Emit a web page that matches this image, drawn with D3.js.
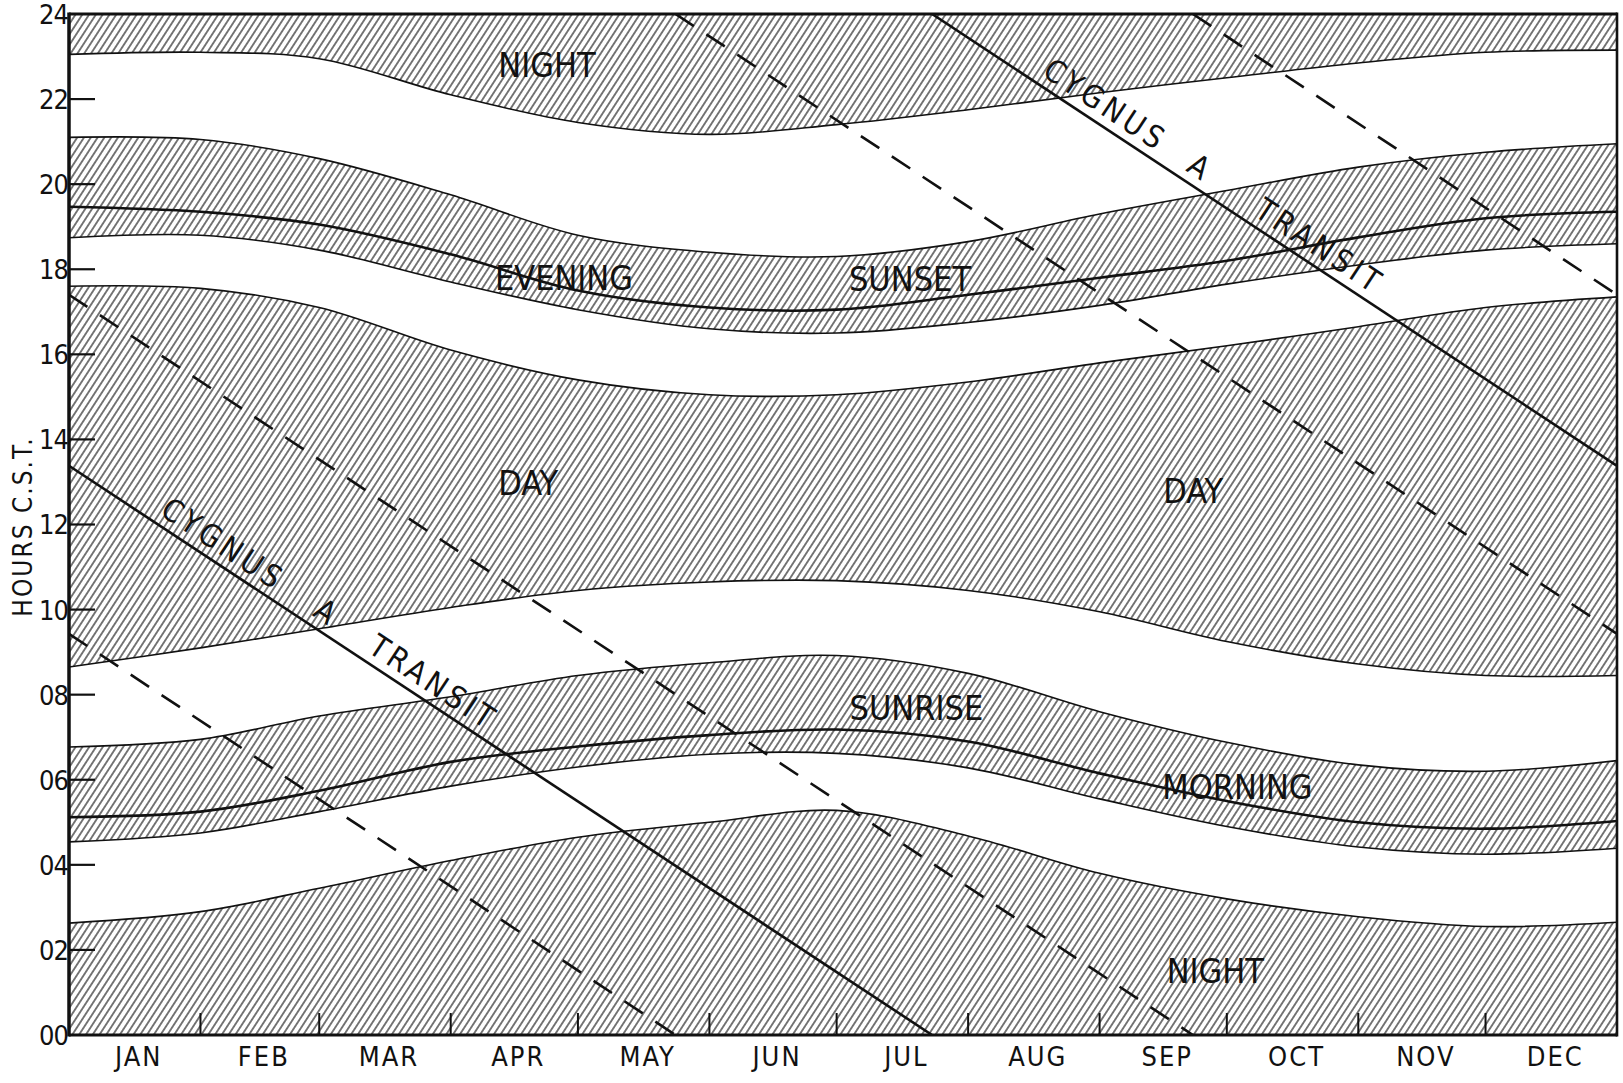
<!DOCTYPE html>
<html>
<head>
<meta charset="utf-8">
<script src="https://cdn.jsdelivr.net/npm/d3@7"></script>
<style>
  html, body { margin: 0; padding: 0; background: #fff; }
  svg { display: block; }
  text { font-family: "DejaVu Sans Condensed", "DejaVu Sans", sans-serif; fill: #111; }
</style>
</head>
<body>
<div id="chart"></div>
<script>
// day of year at the start of each month, plus the year end
const monthStarts = [0, 31, 59, 90, 120, 151, 181, 212, 243, 273, 304, 334, 365];
const monthNames = ["JAN", "FEB", "MAR", "APR", "MAY", "JUN", "JUL", "AUG", "SEP", "OCT", "NOV", "DEC"];
const hourTicks = [0, 2, 4, 6, 8, 10, 12, 14, 16, 18, 20, 22, 24];
const hourLabels = ["00", "02", "04", "06", "08", "10", "12", "14", "16", "18", "20", "22", "24"];

// band edges in hours C.S.T., read at each month start
const nightTopEdge   = [23.05, 23.1, 22.95, 22.1, 21.45, 21.17, 21.4, 21.75, 22.15, 22.5, 22.85, 23.1, 23.15];
const eveningTop     = [21.1, 21.05, 20.6, 19.75, 18.8, 18.4, 18.3, 18.65, 19.3, 19.85, 20.4, 20.75, 20.95];
const sunsetLine     = [19.47, 19.35, 19.05, 18.35, 17.5, 17.1, 17.05, 17.4, 17.8, 18.2, 18.75, 19.2, 19.35];
const eveningBottom  = [18.74, 18.8, 18.45, 17.7, 17.05, 16.6, 16.5, 16.75, 17.15, 17.65, 18.1, 18.45, 18.6];
const dayTop         = [17.6, 17.55, 17.1, 16.1, 15.4, 15.05, 15.05, 15.35, 15.8, 16.2, 16.65, 17.1, 17.35];
const dayBottom      = [8.65, 9.1, 9.55, 10.05, 10.45, 10.65, 10.68, 10.45, 9.95, 9.25, 8.72, 8.45, 8.45];
const morningTop     = [6.77, 6.95, 7.5, 7.95, 8.45, 8.75, 8.92, 8.5, 7.6, 6.88, 6.35, 6.2, 6.45];
const sunriseLine    = [5.12, 5.25, 5.74, 6.42, 6.78, 7.05, 7.18, 6.9, 6.15, 5.5, 5.0, 4.85, 5.03];
const morningBottom  = [4.54, 4.75, 5.25, 5.85, 6.3, 6.6, 6.62, 6.28, 5.55, 4.9, 4.42, 4.25, 4.39];
const nightLowEdge   = [2.63, 2.9, 3.45, 4.1, 4.65, 5.0, 5.28, 4.68, 3.8, 3.2, 2.78, 2.55, 2.65];
const chartTop       = [24, 24, 24, 24, 24, 24, 24, 24, 24, 24, 24, 24, 24];
const chartBottom    = [0, 0, 0, 0, 0, 0, 0, 0, 0, 0, 0, 0, 0];

// Cygnus A transit and the lines 4 h either side: [day, hour] end points of each run
const cygnusTransit = [[[0, 13.38], [203.5, 0]], [[203.5, 24], [365, 13.38]]];
const fourHoursLater = [[[0, 17.4], [265, 0]], [[265, 24], [365, 17.4]]];
const fourHoursEarlier = [[[0, 9.43], [143, 0]], [[143, 24], [365, 9.43]]];

const bandNames = [
  { text: "NIGHT", day: 112.7, hour: 22.8 },
  { text: "EVENING", day: 116.7, hour: 17.8 },
  { text: "SUNSET", day: 198.3, hour: 17.77 },
  { text: "DAY", day: 108.3, hour: 12.98 },
  { text: "DAY", day: 265.1, hour: 12.79 },
  { text: "SUNRISE", day: 199.8, hour: 7.69 },
  { text: "MORNING", day: 275.5, hour: 5.83 },
  { text: "NIGHT", day: 270.3, hour: 1.52 }
];
// words written along the transit line: run index and starting day
const transitWords = [
  { text: "CYGNUS", run: 0, day: 20 },
  { text: "A", run: 0, day: 56 },
  { text: "TRANSIT", run: 0, day: 69 },
  { text: "CYGNUS", run: 1, day: 228 },
  { text: "A", run: 1, day: 262 },
  { text: "TRANSIT", run: 1, day: 278 }
];

const width = 1623;
const height = 1083;
const x = d3.scaleLinear().domain([0, 365]).range([69, 1617]);
const y = d3.scaleLinear().domain([0, 24]).range([1035, 14]);

const svg = d3.select("#chart").append("svg")
  .attr("width", width)
  .attr("height", height);

const defs = svg.append("defs");
const hatch = defs.append("pattern")
  .attr("id", "hatch")
  .attr("patternUnits", "userSpaceOnUse")
  .attr("width", 5.7)
  .attr("height", 10)
  .attr("patternTransform", "rotate(33)");
hatch.append("line")
  .attr("x1", 2.85).attr("y1", -1)
  .attr("x2", 2.85).attr("y2", 11)
  .style("stroke", "#151515")
  .style("stroke-width", 1.15);

defs.append("clipPath").attr("id", "plot")
  .append("rect")
  .attr("x", x(0)).attr("y", y(24))
  .attr("width", x(365) - x(0)).attr("height", y(0) - y(24));

const curve = d3.curveCatmullRom.alpha(0.5);
const plot = svg.append("g").attr("clip-path", "url(#plot)");

// hatched bands
const bands = [
  [nightTopEdge, chartTop],
  [eveningBottom, eveningTop],
  [dayBottom, dayTop],
  [morningBottom, morningTop],
  [chartBottom, nightLowEdge]
];
const area = d3.area()
  .x(d => x(d.day))
  .y0(d => y(d.lo))
  .y1(d => y(d.hi))
  .curve(curve);

plot.selectAll(".band")
  .data(bands)
  .enter()
  .append("path")
  .attr("class", "band")
  .attr("d", ([lo, hi]) => area(monthStarts.map((day, i) => ({ day, lo: lo[i], hi: hi[i] }))))
  .style("fill", "url(#hatch)");

// band edges and the sunrise / sunset lines
const line = d3.line()
  .x((d, i) => x(monthStarts[i]))
  .y(d => y(d))
  .curve(curve);

const edges = [nightTopEdge, eveningTop, eveningBottom, dayTop, dayBottom, morningTop, morningBottom, nightLowEdge];
plot.selectAll(".edge")
  .data(edges)
  .enter()
  .append("path")
  .attr("class", "edge")
  .attr("d", line)
  .style("fill", "none")
  .style("stroke", "#111")
  .style("stroke-width", 1.6);

plot.selectAll(".sun")
  .data([sunsetLine, sunriseLine])
  .enter()
  .append("path")
  .attr("class", "sun")
  .attr("d", line)
  .style("fill", "none")
  .style("stroke", "#111")
  .style("stroke-width", 2.6);

// transit lines
const straight = d3.line().x(d => x(d[0])).y(d => y(d[1]));
plot.selectAll(".transit")
  .data(cygnusTransit)
  .enter()
  .append("path")
  .attr("class", "transit")
  .attr("d", straight)
  .style("stroke", "#111")
  .style("stroke-width", 2.6);

plot.selectAll(".offset")
  .data(fourHoursLater.concat(fourHoursEarlier))
  .enter()
  .append("path")
  .attr("class", "offset")
  .attr("d", straight)
  .style("stroke", "#111")
  .style("stroke-width", 2.6)
  .style("stroke-dasharray", "22,15");

// words along the transit line
transitWords.forEach(w => {
  const [[d0, h0], [d1, h1]] = cygnusTransit[w.run];
  const angle = Math.atan2(y(h1) - y(h0), x(d1) - x(d0)) * 180 / Math.PI;
  const h = h0 + (h1 - h0) * (w.day - d0) / (d1 - d0);
  svg.append("text")
    .attr("transform", `translate(${x(w.day)},${y(h)}) rotate(${angle})`)
    .attr("y", -9)
    .attr("letter-spacing", 4)
    .style("font-size", "31px")
    .text(w.text);
});

// band names
svg.selectAll(".bandname")
  .data(bandNames)
  .enter()
  .append("text")
  .attr("class", "bandname")
  .attr("x", d => x(d.day))
  .attr("y", d => y(d.hour))
  .attr("dy", "0.36em")
  .attr("text-anchor", "middle")
  .style("font-size", "34px")
  .text(d => d.text);

// frame
const frame = svg.append("g").style("stroke", "#111").style("fill", "none");
frame.append("line").attr("x1", x(0)).attr("x2", x(365)).attr("y1", y(24)).attr("y2", y(24)).style("stroke-width", 3);
frame.append("line").attr("x1", x(0)).attr("x2", x(365)).attr("y1", y(0)).attr("y2", y(0)).style("stroke-width", 3);
frame.append("line").attr("x1", x(0)).attr("x2", x(0)).attr("y1", y(24) - 1.5).attr("y2", y(0) + 1.5).style("stroke-width", 3.5);
frame.append("line").attr("x1", x(365)).attr("x2", x(365)).attr("y1", y(24) - 1.5).attr("y2", y(0) + 1.5).style("stroke-width", 2.6);

// hour axis
const yAxis = svg.append("g");
yAxis.selectAll(".ytick")
  .data(hourTicks.filter(h => h > 0 && h < 24))
  .enter()
  .append("line")
  .attr("x1", x(0)).attr("x2", x(0) + 26)
  .attr("y1", d => y(d)).attr("y2", d => y(d))
  .style("stroke", "#111")
  .style("stroke-width", 2.2);
yAxis.selectAll(".ylabel")
  .data(hourTicks)
  .enter()
  .append("text")
  .attr("x", x(0) - 1)
  .attr("y", d => y(d))
  .attr("dy", "0.37em")
  .attr("text-anchor", "end")
  .attr("letter-spacing", -1)
  .style("font-size", "27px")
  .text((d, i) => hourLabels[i]);

svg.append("text")
  .attr("transform", `translate(32,${(y(0) + y(24)) / 2 + 2}) rotate(-90)`)
  .attr("text-anchor", "middle")
  .attr("letter-spacing", 2)
  .style("font-size", "26px")
  .text("HOURS  C.S.T.");

// month axis
const xAxis = svg.append("g");
xAxis.selectAll(".xtick")
  .data(monthStarts.slice(1, 12))
  .enter()
  .append("line")
  .attr("x1", d => x(d)).attr("x2", d => x(d))
  .attr("y1", y(0)).attr("y2", y(0) - 22)
  .style("stroke", "#111")
  .style("stroke-width", 2);
xAxis.selectAll(".xlabel")
  .data(monthNames)
  .enter()
  .append("text")
  .attr("x", (d, i) => x((monthStarts[i] + monthStarts[i + 1]) / 2) + 4)
  .attr("y", 1066)
  .attr("text-anchor", "middle")
  .attr("letter-spacing", 2)
  .style("font-size", "27px")
  .text(d => d);
</script>
</body>
</html>
